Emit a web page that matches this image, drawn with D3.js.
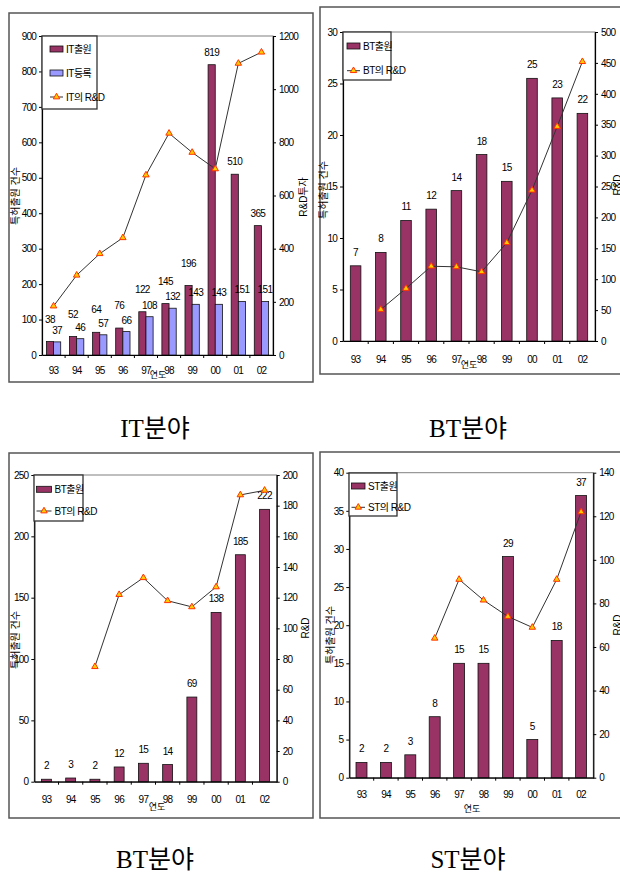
<!DOCTYPE html>
<html><head><meta charset="utf-8">
<script src="https://cdn.jsdelivr.net/npm/d3@7"></script>
<style>
body{margin:0;background:#fff;}
svg{display:block;}
text{font-family:"Liberation Sans","Noto Sans CJK KR",sans-serif;fill:#000;}
</style></head><body>
<svg id="c" width="620" height="875"></svg>
<script>
const years = ["93","94","95","96","97","98","99","00","01","02"];
// IT
const itApps = [38,52,64,76,122,145,196,819,510,365];
const itRegs = [37,46,57,66,108,132,143,143,151,151];
const itRnd  = [184,300,381,441,677,834,762,700,1097,1139];
const itLeftTicks  = [0,100,200,300,400,500,600,700,800,900];
const itRightTicks = [0,200,400,600,800,1000,1200];
// BT (top right)
const btApps = [7.3,8.6,11.7,12.8,14.6,18.1,15.5,25.5,23.6,22.1];
const btRnd  = [null,51,85,121,120,112,159,244,347,452];
const btLeftTicks  = [0,5,10,15,20,25,30];
const btRightTicks = [0,50,100,150,200,250,300,350,400,450,500];
// BT (bottom left)
const bt2Apps = [2,3,2,12,15,14,69,138,185,222];
const bt2Rnd  = [null,null,75,122,133,118,114,127,187,190];
const bt2LeftTicks  = [0,50,100,150,200,250];
const bt2RightTicks = [0,20,40,60,80,100,120,140,160,180,200];
// ST
const stApps = [2,2,3,8,15,15,29,5,18,37];
const stRnd  = [null,null,null,64,91,81.5,74,69,91,122];
const stLeftTicks  = [0,5,10,15,20,25,30,35,40];
const stRightTicks = [0,20,40,60,80,100,120,140];

const svg = d3.select("#c");
const MAROON = "#993366", LAV = "#9999FF";

function panel(cfg){
  const g = svg.append("g");
  g.append("rect").attr("x",cfg.frame[0]).attr("y",cfg.frame[1]).attr("width",cfg.frame[2]).attr("height",cfg.frame[3])
    .attr("fill","none").attr("stroke","#555").attr("stroke-width",1.5);
  const [x0,x1,yT,yB] = cfg.plot;
  const x = d3.scaleBand().domain(years).range([x0,x1]);
  const yL = d3.scaleLinear().domain([0,d3.max(cfg.leftTicks)]).range([yB,yT]);
  const yR = d3.scaleLinear().domain([0,d3.max(cfg.rightTicks)]).range([yB,yT]);
  // plot border
  g.append("rect").attr("x",x0).attr("y",yT).attr("width",x1-x0).attr("height",yB-yT)
    .attr("fill","none").attr("stroke","#808080").attr("stroke-width",1);
  // bars
  const bw = x.bandwidth()*cfg.barFrac;
  const n = cfg.bars.length;
  cfg.bars.forEach((s,i)=>{
    const off = x.bandwidth()/2 - n*bw/2 + i*bw;
    g.append("g").selectAll("rect").data(s.values).join("rect")
      .attr("x",(d,j)=>x(years[j])+off).attr("y",d=>yL(d))
      .attr("width",bw).attr("height",d=>yB-yL(d))
      .attr("fill",s.color).attr("stroke","#111").attr("stroke-width",0.8);
  });
  // labels
  cfg.bars.forEach((s,i)=>{
    const off = x.bandwidth()/2 - n*bw/2 + i*bw + bw/2;
    g.append("g").selectAll("text").data(s.values).join("text")
      .attr("x",(d,j)=>x(years[j])+off)
      .attr("y",(d,j)=>yL(d)-s.lift(d,j,yL))
      .attr("text-anchor","middle").attr("font-size",10).attr("letter-spacing",-0.6)
      .text(d=>s.fmt(d));
  });
  // axes
  const la = g.append("g").attr("transform",`translate(${x0},0)`)
    .call(d3.axisLeft(yL).tickValues(cfg.leftTicks).tickFormat(d3.format("d")).tickSize(3).tickSizeOuter(0).tickPadding(3));
  const ra = g.append("g").attr("transform",`translate(${x1},0)`)
    .call(d3.axisRight(yR).tickValues(cfg.rightTicks).tickFormat(d3.format("d")).tickSize(3).tickSizeOuter(0).tickPadding(3));
  [la,ra].forEach(a=>{
    a.selectAll("text").attr("font-size",10).attr("letter-spacing",-0.8);
    a.select(".domain").attr("stroke","#000").attr("stroke-width",1.2);
  });
  const ba = g.append("g").attr("transform",`translate(0,${yB})`)
    .call(d3.axisBottom(x).tickSize(0).tickPadding(cfg.xPad).tickSizeOuter(0));
  ba.selectAll("text").attr("font-size",10).attr("letter-spacing",-0.8);
  ba.select(".domain").attr("stroke","#000").attr("stroke-width",1.2);
  g.append("g").selectAll("line").data(years.slice(1)).join("line")
    .attr("x1",d=>x(d)).attr("x2",d=>x(d)).attr("y1",yB).attr("y2",yB+3).attr("stroke","#000");
  // line series
  const line = d3.line().defined(d=>d!=null).x((d,j)=>x(years[j])+x.bandwidth()/2).y(d=>yR(d));
  g.append("path").datum(cfg.rnd).attr("d",line).attr("fill","none").attr("stroke","#333").attr("stroke-width",1);
  const sym = d3.symbol(d3.symbolTriangle).size(18);
  g.append("g").selectAll("path").data(cfg.rnd.map((d,j)=>({d,j})).filter(o=>o.d!=null)).join("path")
    .attr("transform",o=>`translate(${x(years[o.j])+x.bandwidth()/2},${yR(o.d)})`)
    .attr("d",sym).attr("fill","#FFCC00").attr("stroke","#FF3300").attr("stroke-width",1);
  // x title
  g.append("text").attr("x",cfg.xTitle[0]).attr("y",cfg.xTitle[1]+5).attr("text-anchor","middle")
    .attr("font-size",9).text("연도");
  // y titles
  g.append("text").attr("transform",`translate(${cfg.lTitle[0]},${cfg.lTitle[1]}) rotate(-90)`)
    .attr("text-anchor","middle").attr("dy","0.35em").attr("font-size",10).attr("fill","#222").text("특허출원 건수");
  g.append("text").attr("transform",`translate(${cfg.rTitle[0]},${cfg.rTitle[1]}) rotate(-90)`)
    .attr("text-anchor","middle").attr("dy","0.35em").attr("font-size",10).attr("fill","#222").text(cfg.rTitleText);
  // legend
  const L = cfg.legend;
  const lg = g.append("g").attr("transform",`translate(${L.x},${L.y})`);
  lg.append("rect").attr("width",L.w).attr("height",L.h).attr("fill","#fff").attr("stroke","#333").attr("stroke-width",1.3);
  L.items.forEach((it,k)=>{
    const yy = L.rows[k];
    if(it.type==="bar"){
      lg.append("rect").attr("x",L.sx).attr("y",yy-3).attr("width",L.sw).attr("height",6)
        .attr("fill",it.color).attr("stroke","#111").attr("stroke-width",0.8);
    } else {
      lg.append("line").attr("x1",L.sx).attr("x2",L.sx+L.sw).attr("y1",yy).attr("y2",yy).attr("stroke","#333");
      lg.append("path").attr("transform",`translate(${L.sx+L.sw/2},${yy})`).attr("d",sym)
        .attr("fill","#FFCC00").attr("stroke","#FF3300");
    }
    lg.append("text").attr("x",L.sx+L.sw+3).attr("y",yy).attr("dy","0.35em").attr("font-size",10)
      .attr("letter-spacing",-0.5).text(it.label);
  });
  // caption
  svg.append("text").attr("x",cfg.caption[0]).attr("y",cfg.caption[1]).attr("text-anchor","middle")
    .attr("font-size",25).style("font-family","Liberation Serif, Noto Sans CJK KR, serif").text(cfg.captionText);
}

const fmtInt = d=>String(Math.floor(d));
const lift10 = ()=>10;

panel({
  frame:[9,13,304,369], plot:[42,273,36,355], leftTicks:itLeftTicks, rightTicks:itRightTicks,
  barFrac:0.31, xPad:12,
  bars:[
    {values:itApps,color:MAROON,fmt:fmtInt,
     lift:(d,j,y)=> (y(itRegs[j])-y(d) > 20 ? 9 : 19)},
    {values:itRegs,color:LAV,fmt:fmtInt,lift:()=>8}
  ],
  rnd:itRnd, xTitle:[158,373], lTitle:[15,196], rTitle:[303,197], rTitleText:"R&D투자",
  legend:{x:42,y:36,w:55,h:73,rows:[13,37,61],sx:8,sw:13,
    items:[{type:"bar",color:MAROON,label:"IT출원"},{type:"bar",color:LAV,label:"IT등록"},{type:"line",label:"IT의 R&D"}]},
  caption:[155,437], captionText:"IT분야"
});

panel({
  frame:[320,7,304,367], plot:[343,595,32,341], leftTicks:btLeftTicks, rightTicks:btRightTicks,
  barFrac:0.42, xPad:15,
  bars:[{values:btApps,color:MAROON,fmt:fmtInt,lift:lift10}],
  rnd:btRnd, xTitle:[469,363], lTitle:[323,190], rTitle:[617,185], rTitleText:"R&D",
  legend:{x:343,y:32,w:48,h:48,rows:[14,38.7],sx:4,sw:13,
    items:[{type:"bar",color:MAROON,label:"BT출원"},{type:"line",label:"BT의 R&D"}]},
  caption:[468,437], captionText:"BT분야"
});

panel({
  frame:[9,453,304,365], plot:[34.3,276.7,475,781.7], leftTicks:bt2LeftTicks, rightTicks:bt2RightTicks,
  barFrac:0.41, xPad:14,
  bars:[{values:bt2Apps,color:MAROON,fmt:fmtInt,lift:lift10}],
  rnd:bt2Rnd, xTitle:[157,805], lTitle:[15,640], rTitle:[305,628], rTitleText:"R&D",
  legend:{x:34,y:475,w:49,h:46,rows:[14.3,36],sx:2.5,sw:15,
    items:[{type:"bar",color:MAROON,label:"BT출원"},{type:"line",label:"BT의 R&D"}]},
  caption:[155,868], captionText:"BT분야"
});

panel({
  frame:[320,452,304,366], plot:[349.3,593.3,472.7,777.7], leftTicks:stLeftTicks, rightTicks:stRightTicks,
  barFrac:0.45, xPad:13,
  bars:[{values:stApps,color:MAROON,fmt:fmtInt,lift:lift10}],
  rnd:stRnd, xTitle:[472,807], lTitle:[330,635], rTitle:[617,625], rTitleText:"R&D",
  legend:{x:349,y:473,w:48,h:43,rows:[13,34.3],sx:2.5,sw:13.5,
    items:[{type:"bar",color:MAROON,label:"ST출원"},{type:"line",label:"ST의 R&D"}]},
  caption:[468,868], captionText:"ST분야"
});
</script></body></html>
